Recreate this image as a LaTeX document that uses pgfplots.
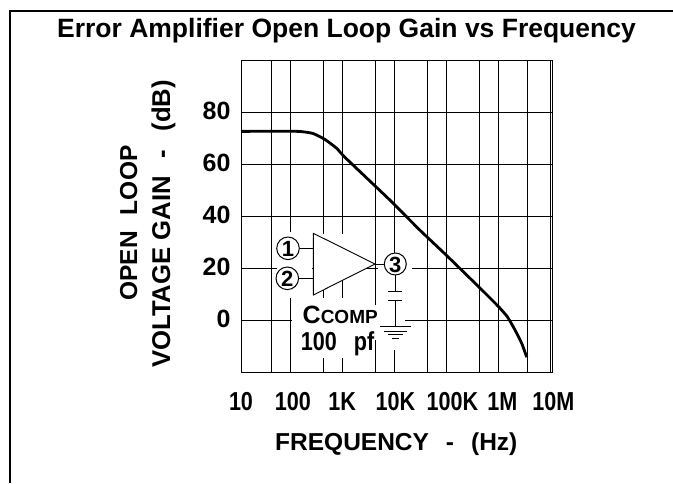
\documentclass[border=0pt]{standalone}
\usepackage{pgfplots}
\pgfplotsset{compat=1.18}
\usepackage{fontspec}
\setmainfont{Liberation Sans}[BoldFont={Liberation Sans Bold}]
\newfontfamily\condf{Liberation Sans Bold}[FakeStretch=0.83]
\newcommand\tl{\condf\fontsize{26}{28}\selectfont}
\newcommand\lb{\bfseries\fontsize{24.5}{28}\selectfont}
\begin{document}
\begin{tikzpicture}[x=1pt,y=-1pt]
\path[use as bounding box] (0,0) rectangle (673,483);
\draw[line width=2.7pt,black] (10,483) -- (10,11) -- (673,11);
\node[font=\bfseries\fontsize{26.5}{30}\selectfont,anchor=base] at (346.5,37.5) {Error Amplifier Open Loop Gain vs Frequency};
\begin{axis}[
  at={(241pt,-372pt)},anchor=south west,
  scale only axis,width=311.3pt,height=311.5pt,
  xmode=log,log basis x=10,
  xmin=11.3,xmax=10900000,ymin=-20,ymax=100,
  xtick={11.3,100,1000,10000,100000,1000000,10000000},
  xticklabels={10,\hspace{5pt}100,1K,\hspace{2pt}10K,\hspace{12pt}100K,\hspace{8pt}1M,\hspace{6pt}10M},
  ytick={0,20,40,60,80},
  extra x ticks={44,440,4400,44000,440000,3700000},
  extra x tick labels={},
  extra x tick style={grid=major,major tick length=0pt},
  minor x tick num=0,
  xminorgrids=false,ymajorgrids=true,xmajorgrids=true,
  major grid style={black,line width=0.8pt},
  axis line style={black,line width=0.8pt},
  major tick length=0pt,
  xticklabel style={font=\tl,anchor=base,yshift=-38.5pt},
  yticklabel style={font=\bfseries\fontsize{25}{28}\selectfont,anchor=east,xshift=-7pt,yshift=1.3pt},
  /pgf/number format/assume math mode=true,
  clip=false,
]
\addplot[black,line width=2.8pt,line join=round,smooth,tension=0.25] coordinates {
 (11.3,72.7)(140.6,72.7)(273,71.9)(464,69.6)(780,66.2)(1126,62.7)(8260,46.2)(31200,34.6)(100000,25)(431000,12.6)(986000,5.4)(1490000,1.3)(2090000,-3.8)(2820000,-9)(3520000,-14.3)};
\end{axis}
% inset: white patches
\fill[white] (277,232) rectangle (312,298);
\fill[white] (313,234) rectangle (350,264);
\fill[white] (292,298) rectangle (372,358);
\fill[white] (372,305) rectangle (405,340);
\fill[white] (378,253) rectangle (412,276);
\fill[white] (385,276) rectangle (405,350);
\draw[line width=0.9pt,fill=white] (313.3,233.3) -- (313.3,295) -- (375,264) -- cycle;
\draw[line width=0.9pt] (300,248.3) -- (313.3,248.3) (299,278.3) -- (313.3,278.3) (375,264) -- (384,264);
\draw[line width=1pt,fill=white] (288,248.3) circle (11.3);
\draw[line width=1pt,fill=white] (287.3,278.3) circle (11.3);
\draw[line width=1pt,fill=white] (395.3,264) circle (11);
\draw[line width=0.9pt] (395.5,275) -- (395.5,291) (388.3,291) -- (401.7,291) (388.3,300) -- (401.7,300) (395.5,300) -- (395.5,326.7);
\draw[line width=0.9pt] (380,326.7) -- (410.7,326.7);
\draw[line width=0.9pt] (384,331.5) -- (407,331.5) (388,334.5) -- (403,334.5) (392,338.5) -- (399,338.5);
\node[font=\bfseries\fontsize{22}{24}\selectfont,anchor=base] at (288,256) {1};
\node[font=\bfseries\fontsize{22}{24}\selectfont,anchor=base] at (287.3,286) {2};
\node[font=\bfseries\fontsize{22}{24}\selectfont,anchor=base] at (395.3,272) {3};
\node[font=\bfseries\fontsize{19}{20}\selectfont,anchor=base west,inner sep=0pt] at (302.5,323) {{\fontsize{25}{20}\selectfont C}COMP};
\node[font=\tl,anchor=base west,inner sep=0pt] at (300.7,350) {100\hspace{17pt}{\bfseries pf}};
% axis titles
\node[font=\lb,anchor=base west,inner sep=0pt] at (275,450) {FREQUENCY\hspace{17pt}-\hspace{17pt}(Hz)};
\node[font=\lb,anchor=base,rotate=90] at (137,223) {OPEN\hspace{16pt}LOOP};
\node[font=\bfseries\fontsize{25.7}{28}\selectfont,anchor=base,rotate=90] at (170,224) {VOLTAGE GAIN\hspace{18pt}-\hspace{18pt}(dB)};
\end{tikzpicture}
\end{document}
